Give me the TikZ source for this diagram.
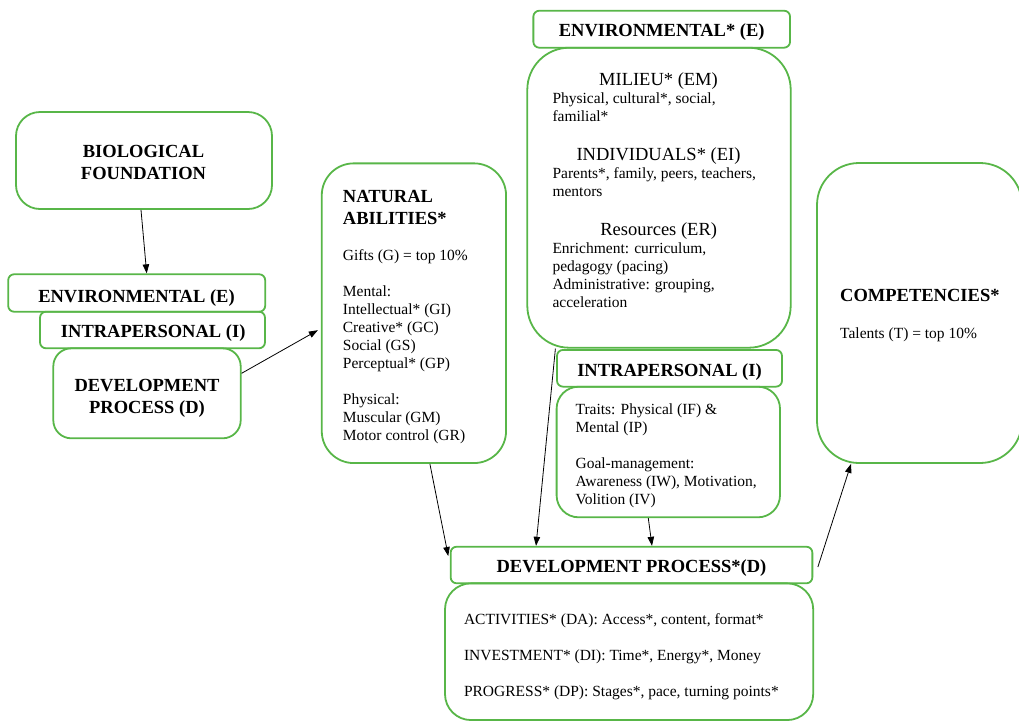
\documentclass[tikz,border=0pt]{standalone}
\usepackage{fontspec}
\setmainfont{Liberation Serif}
\usetikzlibrary{arrows.meta}
\definecolor{grn}{RGB}{88,182,72}
\tikzset{
  bx/.style={draw=grn, line width=1.8pt, rounded corners=#1, inner sep=0pt},
  hd/.style={font=\fontsize{18.5}{22}\selectfont\bfseries, inner sep=0pt},
  sh/.style={font=\fontsize{18.5}{22}\selectfont, inner sep=0pt},
  tx/.style={font=\fontsize{15.5}{18}\selectfont, inner sep=0pt, align=left, anchor=base west},
  arr/.style={line width=0.8pt, -{Triangle[length=9pt,width=6.5pt]}}
}
\begin{document}
\begin{tikzpicture}[x=1pt,y=-1pt]
\useasboundingbox (0,0) rectangle (1019,721);
% boxes
\node[bx=24, minimum width=256, minimum height=97] (bio) at (144,160.5) {};
\node[bx=6, minimum width=257, minimum height=37.5] (envL) at (136.7,293) {};
\node[bx=6, minimum width=225, minimum height=36.6] (intraL) at (152.5,330) {};
\node[bx=18, minimum width=187.4, minimum height=90] (devL) at (147,393.3) {};
\node[bx=32, minimum width=184.3, minimum height=299.7] (nat) at (413.9,313.2) {};
\node[bx=6, minimum width=256.7, minimum height=37] (envT) at (661.7,29.2) {};
\node[bx=42, minimum width=263.4, minimum height=300] (envB) at (659,197.7) {};
\node[bx=6, minimum width=225, minimum height=36.7] (intraH) at (669.5,368.3) {};
\node[bx=22, minimum width=223.4, minimum height=130.6] (intraC) at (668.3,452) {};
\node[bx=6, minimum width=361.7, minimum height=36.6] (devH) at (631.5,565) {};
\node[bx=26, minimum width=368.2, minimum height=136.7] (devC) at (629.1,651.7) {};
\node[bx=42, minimum width=205, minimum height=300] (comp) at (919.5,313) {};
% texts left column (base anchor = baseline of last line)
\node[hd, anchor=base, align=center] (tbio) at (143.5,179.5) {BIOLOGICAL\\FOUNDATION};
\node[hd, anchor=base] (tenvL) at (136.5,302.3) {ENVIRONMENTAL (E)};
\node[hd, anchor=base] (tintraL) at (153.2,337.3) {INTRAPERSONAL (I)};
\node[hd, anchor=base, align=center] (tdevL) at (147,413) {DEVELOPMENT\\PROCESS (D)};
% natural abilities
\node[hd, anchor=base west, align=left] (tnat) at (342.7,224.3) {NATURAL\\ABILITIES*};
\node[tx] (tnat2) at (342.7,440) {Gifts (G) = top 10\%\\[18pt]Mental:\\Intellectual* (GI)\\Creative* (GC)\\Social (GS)\\Perceptual* (GP)\\[18pt]Physical:\\Muscular (GM)\\Motor control (GR)};
% environmental
\node[hd, anchor=base] (tenvT) at (661.7,36.7) {ENVIRONMENTAL* (E)};
\node[sh, anchor=base] (tmil) at (658.5,85.7) {MILIEU* (EM)};
\node[tx] (tmil2) at (552.3,121.5) {Physical, cultural*, social,\\familial*};
\node[sh, anchor=base] (tind) at (658.5,160.7) {INDIVIDUALS* (EI)};
\node[tx] (tind2) at (552.3,196.5) {Parents*, family, peers, teachers,\\mentors};
\node[sh, anchor=base] (tres) at (658.7,235.7) {Resources (ER)};
\node[tx] (tres2) at (552.3,307.5) {Enrichment: curriculum,\\pedagogy (pacing)\\Administrative: grouping,\\acceleration};
% intrapersonal
\node[hd, anchor=base] (tintraH) at (669.5,376) {INTRAPERSONAL (I)};
\node[tx] (tintraC) at (575.4,504.5) {Traits: Physical (IF) \&\\Mental (IP)\\[18pt]Goal-management:\\Awareness (IW), Motivation,\\Volition (IV)};
% development
\node[hd, anchor=base] (tdevH) at (631.5,572.7) {DEVELOPMENT PROCESS*(D)};
\node[tx] (tdevC) at (463.8,696.3) {ACTIVITIES* (DA): Access*, content, format*\\[18pt]INVESTMENT* (DI): Time*, Energy*, Money\\[18pt]PROGRESS* (DP): Stages*, pace, turning points*};
% competencies
\node[hd, anchor=base west] (tcomp) at (840,301) {COMPETENCIES*};
\node[tx] (tcomp2) at (840,338.5) {Talents (T) = top 10\%};
% arrows
\draw[arr] ([xshift=-3pt]bio.south) -- ([xshift=10pt]envL.north);
\draw[arr] ([yshift=20pt]devL.east) -- ([xshift=-3pt,yshift=-17pt]nat.west);
\draw[arr] ([xshift=16pt]nat.south) -- ([xshift=-1.5pt,yshift=9pt]devH.west);
\draw[arr] ([xshift=29pt]envB.south west) -- ([xshift=-95.5pt]devH.north);
\draw[arr] ([xshift=-20pt]intraC.south) -- ([xshift=20.5pt]devH.north);
\draw[arr] ([xshift=4.6pt,yshift=-2pt]devH.east) -- ([xshift=-68.5pt]comp.south);
\end{tikzpicture}
\end{document}
